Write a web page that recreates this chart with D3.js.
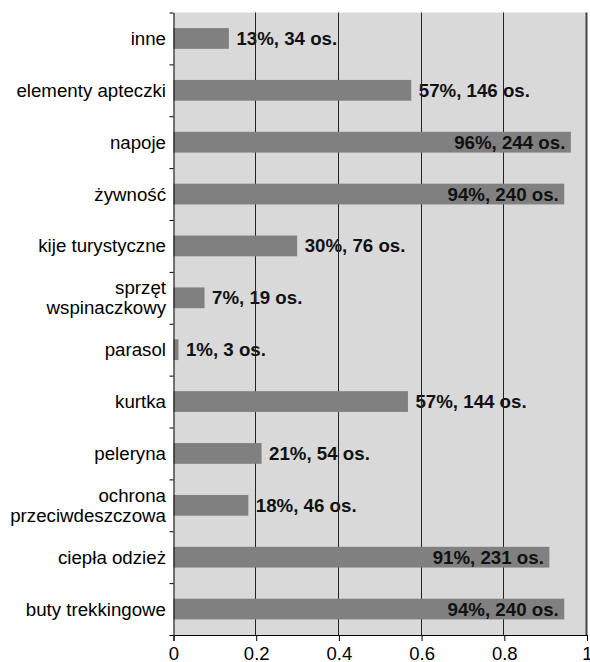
<!DOCTYPE html>
<html>
<head>
<meta charset="utf-8">
<script src="https://cdn.jsdelivr.net/npm/d3@7"></script>
<style>
  body { margin: 0; background: #fff; }
  svg text { font-family: "Liberation Sans", Arial, Helvetica, sans-serif; }
</style>
</head>
<body>
<svg id="chart"></svg>
<script>
// ------ Data (top to bottom)
var categories = ["inne", "elementy apteczki", "napoje", "żywność", "kije turystyczne",
  "sprzęt\nwspinaczkowy", "parasol", "kurtka", "peleryna", "ochrona\nprzeciwdeszczowa",
  "ciepła odzież", "buty trekkingowe"];
var shares = [0.134, 0.575, 0.961, 0.945, 0.299, 0.075, 0.012, 0.567, 0.213, 0.181, 0.909, 0.945];
var percentLabels = ["13%", "57%", "96%", "94%", "30%", "7%", "1%", "57%", "21%", "18%", "91%", "94%"];
var counts = [34, 146, 244, 240, 76, 19, 3, 144, 54, 46, 231, 240];
var xTicks = [0, 0.2, 0.4, 0.6, 0.8, 1];

// Margins and sizes
var W = 590, H = 662;
var plot = {left: 173.5, right: 587, top: 12.5, bottom: 635};
var fs = 18.7;

var svg = d3.select("#chart").attr("width", W).attr("height", H);

// ------- Scales
var x = d3.scaleLinear().domain([0, 1]).range([plot.left, plot.right]);
var y = d3.scaleBand().domain(d3.range(categories.length))
  .range([plot.top, plot.bottom]).paddingInner(0.6).paddingOuter(0.3);
var yEdge = d3.scaleLinear().domain([0, categories.length]).range([plot.top, plot.bottom]);

var rows = categories.map(function(c, i) {
  return {i: i, cat: c, v: shares[i], label: percentLabels[i] + ", " + counts[i] + " os."};
});

// background
svg.append("rect")
  .attr("x", x(0)).attr("y", plot.top)
  .attr("width", x(1) - x(0)).attr("height", plot.bottom - plot.top)
  .attr("fill", "#d9d9d9");

// labels outside of bars (under the grid)
svg.append("g").selectAll("text")
  .data(rows.filter(function(d) { return d.v < 0.9; }))
  .enter().append("text")
    .attr("x", function(d) { return x(d.v) + 7.5; })
    .attr("y", function(d) { return y(d.i) + y.bandwidth() / 2 + 6.5; })
    .attr("font-size", fs).attr("font-weight", "bold").attr("fill", "#111")
    .text(function(d) { return d.label; });

// gridlines
svg.append("g").selectAll("line")
  .data(xTicks.filter(function(t) { return t > 0; }))
  .enter().append("line")
    .attr("x1", function(t) { return Math.round(x(t)) - 0.5; })
    .attr("x2", function(t) { return Math.round(x(t)) - 0.5; })
    .attr("y1", plot.top).attr("y2", plot.bottom)
    .attr("stroke", function(t) { return t === 1 ? "#444" : "#222"; })
    .attr("stroke-width", function(t) { return t === 1 ? 2 : 1; });

// bars
svg.append("g").selectAll("rect")
  .data(rows)
  .enter().append("rect")
    .attr("x", x(0))
    .attr("y", function(d) { return y(d.i); })
    .attr("width", function(d) { return x(d.v) - x(0); })
    .attr("height", y.bandwidth())
    .attr("fill", "#808080");

// labels inside of bars
svg.append("g").selectAll("text")
  .data(rows.filter(function(d) { return d.v >= 0.9; }))
  .enter().append("text")
    .attr("x", function(d) { return x(d.v) - 5.5; })
    .attr("y", function(d) { return y(d.i) + y.bandwidth() / 2 + 6.5; })
    .attr("text-anchor", "end")
    .attr("font-size", fs).attr("font-weight", "bold").attr("fill", "#111")
    .text(function(d) { return d.label; });

// x-axis
var xAxis = svg.append("g")
  .attr("transform", "translate(0," + plot.bottom + ")")
  .call(d3.axisBottom(x).tickValues(xTicks).tickFormat(d3.format("")).tickSizeOuter(0).tickSize(6).tickPadding(6));
xAxis.selectAll("text").attr("font-size", 18.5).attr("fill", "#000")
  .attr("font-family", "Liberation Sans, Arial, sans-serif");
xAxis.selectAll("line, path").attr("stroke", "#000");

// y-axis (ticks between categories)
var yAxis = svg.append("g")
  .attr("transform", "translate(" + x(0) + ",0)")
  .call(d3.axisLeft(yEdge).ticks(categories.length).tickFormat("").tickSize(4).tickSizeOuter(0));
yAxis.selectAll("line, path").attr("stroke", "#000");

// category labels
var catLabels = svg.append("g").selectAll("text")
  .data(rows)
  .enter().append("text")
    .attr("text-anchor", "end")
    .attr("font-size", fs).attr("fill", "#000")
    .attr("y", function(d) {
      var lines = d.cat.split("\n").length;
      return y(d.i) + y.bandwidth() / 2 + 6.5 - (lines - 1) * 10;
    });
catLabels.selectAll("tspan")
  .data(function(d) { return d.cat.split("\n"); })
  .enter().append("tspan")
    .attr("x", 166)
    .attr("dy", function(t, j) { return j === 0 ? 0 : 20; })
    .text(function(t) { return t; });
</script>
</body>
</html>
